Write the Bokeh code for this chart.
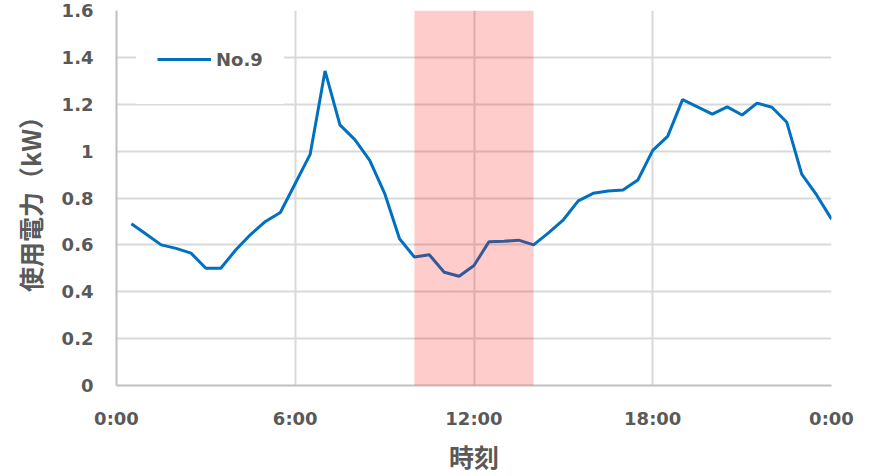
from bokeh.plotting import figure
from bokeh.models import (BoxAnnotation, Legend, LegendItem, FixedTicker,
                          CustomJSTickFormatter, Range1d)
from bokeh.embed import file_html
from bokeh.resources import INLINE

# time of day in hours (0:30 ... 24:00, 30-minute steps)
hours = [0.5, 1.0, 1.5, 2.0, 2.5, 3.0, 3.5, 4.0, 4.5, 5.0, 5.5, 6.0,
         6.5, 7.0, 7.5, 8.0, 8.5, 9.0, 9.5, 10.0, 10.5, 11.0, 11.5, 12.0,
         12.5, 13.0, 13.5, 14.0, 14.5, 15.0, 15.5, 16.0, 16.5, 17.0, 17.5, 18.0,
         18.5, 19.0, 19.5, 20.0, 20.5, 21.0, 21.5, 22.0, 22.5, 23.0, 23.5, 24.0]
# power usage of household No.9 (kW)
usage_kw = [0.69, 0.645, 0.60, 0.585, 0.565, 0.50, 0.50, 0.578, 0.644, 0.70, 0.738, 0.862,
            0.986, 1.342, 1.112, 1.049, 0.961, 0.82, 0.626, 0.548, 0.558, 0.483, 0.466, 0.512,
            0.613, 0.615, 0.62, 0.60, 0.651, 0.707, 0.788, 0.82, 0.83, 0.834, 0.877, 1.003,
            1.063, 1.22, 1.189, 1.158, 1.189, 1.154, 1.205, 1.187, 1.123, 0.902, 0.813, 0.71]
series_name = "No.9"
x_title = "時刻"
y_title = "使用電力（kW）"
x_ticks = [0, 6, 12, 18, 24]
y_ticks = [0, 0.2, 0.4, 0.6, 0.8, 1.0, 1.2, 1.4, 1.6]
highlight_start = 10
highlight_end = 14

GRAY_TXT = "#595959"
TICK_FONT = "DejaVu Sans"
CJK_FONT = "Noto Sans CJK JP"

W, H = 870, 476
BL, BR, BT, BB = 116, 39, 10, 89

p = figure(width=W, height=H, output_backend="svg", toolbar_location=None,
           x_range=Range1d(0, 24), y_range=Range1d(0, 1.6),
           min_border_left=BL, min_border_right=BR, min_border_top=BT,
           min_border_bottom=BB)
p.outline_line_color = None
p.background_fill_color = "white"

line = p.line(hours, usage_kw, line_color="#0070C0", line_width=3)

box = BoxAnnotation(left=highlight_start, right=highlight_end,
                    fill_color="#FF0000", fill_alpha=0.2, line_color=None)
p.add_layout(box)

# axes
p.xaxis.ticker = FixedTicker(ticks=x_ticks)
p.yaxis.ticker = FixedTicker(ticks=y_ticks)
p.xaxis.formatter = CustomJSTickFormatter(code="var h = Math.round(tick) % 24; return h + ':00';")
p.yaxis.formatter = CustomJSTickFormatter(code="return tick.toFixed(1).replace(/\\.0$/, '');")

for ax in (p.xaxis[0], p.yaxis[0]):
    ax.major_tick_line_color = None
    ax.minor_tick_line_color = None
    ax.major_tick_out = 0
    ax.major_tick_in = 0
    ax.axis_line_color = "#BFBFBF"
    ax.axis_line_width = 2
    ax.major_label_text_font = TICK_FONT
    ax.major_label_text_font_style = "bold"
    ax.major_label_text_font_size = "18px"
    ax.major_label_text_color = GRAY_TXT
    ax.axis_label_text_font = CJK_FONT
    ax.axis_label_text_font_style = "bold"
    ax.axis_label_text_font_size = "25px"
    ax.axis_label_text_color = GRAY_TXT

p.xaxis.axis_label = x_title
p.yaxis.axis_label = y_title
p.xaxis.major_label_standoff = 22
p.yaxis.major_label_standoff = 23
p.xaxis.axis_label_standoff = 6
p.yaxis.axis_label_standoff = 11

p.xgrid.ticker = FixedTicker(ticks=x_ticks)
p.ygrid.ticker = FixedTicker(ticks=y_ticks)
p.grid.grid_line_color = "#D9D9D9"
p.grid.grid_line_width = 2

legend = Legend(items=[LegendItem(label=series_name, renderers=[line])],
                location=(20, 281), orientation="vertical")
legend.background_fill_color = "white"
legend.background_fill_alpha = 1.0
legend.border_line_color = "white"
legend.border_line_width = 21
legend.padding = 0
legend.margin = 0
legend.glyph_width = 54
legend.glyph_height = 48
legend.label_height = 48
legend.label_standoff = 5
legend.label_text_font = TICK_FONT
legend.label_text_font_style = "bold"
legend.label_text_font_size = "18px"
legend.label_text_color = GRAY_TXT
p.add_layout(legend)

open("out.html", "w").write(file_html(p, INLINE))
